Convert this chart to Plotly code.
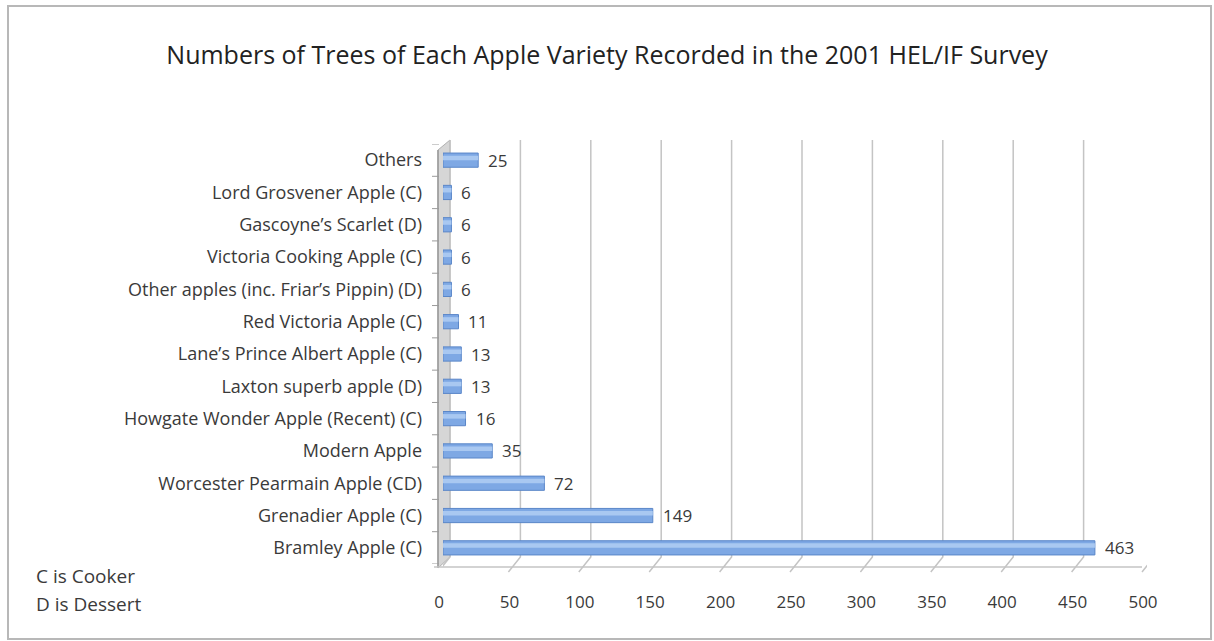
import plotly.graph_objects as go

# ---- data (bottom to top) ----
categories = [
    "Bramley Apple (C)",
    "Grenadier Apple (C)",
    "Worcester Pearmain Apple (CD)",
    "Modern Apple",
    "Howgate Wonder Apple (Recent) (C)",
    "Laxton superb apple (D)",
    "Lane\u2019s Prince Albert Apple (C)",
    "Red Victoria Apple (C)",
    "Other apples (inc. Friar\u2019s Pippin) (D)",
    "Victoria Cooking Apple (C)",
    "Gascoyne\u2019s Scarlet (D)",
    "Lord Grosvener Apple (C)",
    "Others",
]
trees = [463, 149, 72, 35, 16, 13, 13, 11, 6, 6, 6, 6, 25]
x_ticks = [0, 50, 100, 150, 200, 250, 300, 350, 400, 450, 500]

title = "Numbers of Trees of Each Apple Variety Recorded in the 2001 HEL/IF Survey"
notes = ["C is Cooker", "D is Dessert"]

# ---- layout geometry (pixels) ----
W_FIG, H_FIG = 1214, 641
L, R, T, B = 443, 1147, 144, 564
PW, PH = R - L, B - T
FONT = "Open Sans"
TXT = "#3a3a3a"


def px(x):
    return (x - L) / PW


def py(y):
    return (B - y) / PH


fig = go.Figure()

# main bars
fig.add_trace(go.Bar(
    x=trees, y=categories, orientation="h",
    width=0.44, offset=-0.22,
    marker=dict(color="#7ea8e4", line=dict(color="#5a86c8", width=1)),
    hoverinfo="x+y", showlegend=False,
))
# highlight strip on bars
fig.add_trace(go.Bar(
    x=trees, y=categories, orientation="h",
    width=0.14, offset=0.0,
    marker=dict(color="#a9c8f1", line=dict(width=0)),
    hoverinfo="skip", showlegend=False,
))

shapes = []
# figure border
shapes.append(dict(type="rect", xref="paper", yref="paper",
                   x0=px(8), x1=px(1211), y0=py(639), y1=py(6),
                   line=dict(color="#b8b8b8", width=2), layer="below"))
# left side wall
shapes.append(dict(type="path", xref="paper", yref="paper",
                   path=f"M {px(438)} {py(568)} L {px(438)} {py(150)} L {px(450)} {py(140)} L {px(450)} {py(557)} Z",
                   fillcolor="#d6d6d6", line=dict(color="#b0b0b0", width=1), layer="below"))
shapes.append(dict(type="line", xref="paper", yref="paper",
                   x0=px(438), x1=px(438), y0=py(568), y1=py(150),
                   line=dict(color="#9a9a9a", width=1.5), layer="below"))
# floor front line
shapes.append(dict(type="line", xref="paper", yref="paper",
                   x0=px(434), x1=px(1142), y0=py(567), y1=py(567),
                   line=dict(color="#c4c4c4", width=1.5), layer="below"))
# gridlines with floor diagonals
for v in x_ticks:
    shapes.append(dict(type="path", xref="x", yref="paper",
                       xsizemode="pixel", xanchor=v,
                       path=f"M 7 {py(140)} L 7 {py(557)} L -5 {py(572)}",
                       line=dict(color="#c4c4c4", width=1.5), layer="below"))
# y axis tick marks at category boundaries
for i in range(len(categories) + 1):
    shapes.append(dict(type="line", xref="paper", yref="y",
                       x0=px(432), x1=px(439), y0=i - 0.5, y1=i - 0.5,
                       line=dict(color="#9a9a9a", width=1), layer="below"))

annotations = []
for c, v in zip(categories, trees):
    annotations.append(dict(x=v, y=c, xref="x", yref="y", text=str(v),
                            showarrow=False, xanchor="left", xshift=8,
                            font=dict(family=FONT, size=17, color=TXT)))
for i, n in enumerate(notes):
    annotations.append(dict(x=px(34), y=py(576 + 28 * i), xref="paper", yref="paper",
                            text=n, showarrow=False, xanchor="left", yanchor="middle",
                            font=dict(family=FONT, size=19, color=TXT)))

fig.update_layout(
    width=W_FIG, height=H_FIG,
    margin=dict(l=L, r=W_FIG - R, t=T, b=H_FIG - B),
    paper_bgcolor="white", plot_bgcolor="rgba(0,0,0,0)",
    barmode="overlay",
    title=dict(text=title, x=0.5, xanchor="center", y=1 - 55 / H_FIG, yanchor="middle",
               font=dict(family=FONT, size=25, color="#222222")),
    xaxis=dict(range=[0, 500], tickvals=x_ticks, showgrid=False, zeroline=False,
               showline=False, ticks="", ticklabelshift=-4, ticklabelstandoff=26,
               tickfont=dict(family=FONT, size=17, color=TXT), fixedrange=True),
    yaxis=dict(categoryorder="array", categoryarray=categories,
               range=[-0.5, len(categories) - 0.5],
               showgrid=False, zeroline=False, showline=False, ticks="",
               ticklabelstandoff=20,
               tickfont=dict(family=FONT, size=18, color=TXT), fixedrange=True),
    shapes=shapes, annotations=annotations,
    font=dict(family=FONT, color=TXT),
)

fig.write_html("out.html")
